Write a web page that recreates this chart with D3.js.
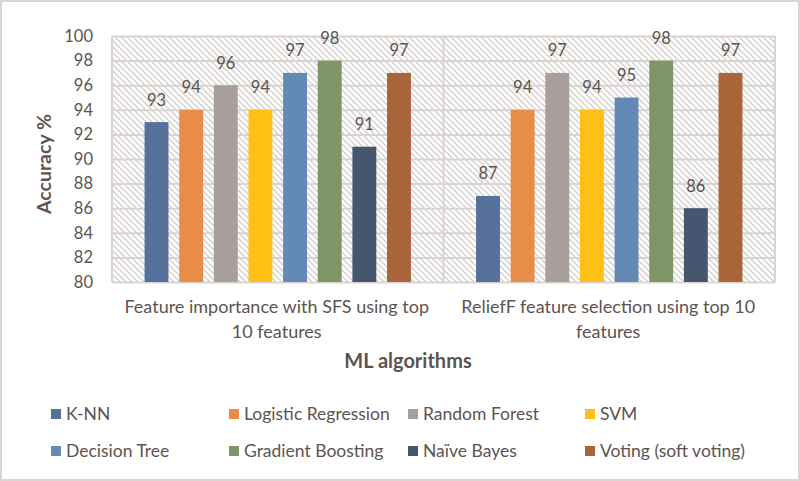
<!DOCTYPE html>
<html>
<head>
<meta charset="utf-8">
<script src="https://cdn.jsdelivr.net/npm/d3@7"></script>
<style>
  body { margin: 0; background: #fff; }
  svg text { font-family: Lato, "Open Sans", sans-serif; fill: #5e5350; }
</style>
</head>
<body>
<div id="chart"></div>
<script>
// data
const groups = ['Feature importance with SFS using top 10 features', 'ReliefF feature selection using top 10 features'];
const groupLines = [['Feature importance with SFS using top', '10 features'], ['ReliefF feature selection using top 10', 'features']];
const algorithms = ['K-NN', 'Logistic Regression', 'Random Forest', 'SVM', 'Decision Tree', 'Gradient Boosting', 'Naïve Bayes', 'Voting (soft voting)'];
const colors = ['#56709c', '#e88d49', '#a89e9b', '#fcc114', '#6389b5', '#7e9667', '#46566f', '#a9643a'];
const sfsValues = [93, 94, 96, 94, 97, 98, 91, 97];
const reliefValues = [87, 94, 97, 94, 95, 98, 86, 97];
const yTicks = [80, 82, 84, 86, 88, 90, 92, 94, 96, 98, 100];

const width = 800, height = 481;
const plot = {left: 112, right: 775, top: 36, bottom: 282};

const svg = d3.select('#chart').append('svg')
    .attr('width', width)
    .attr('height', height);

// outer frame
svg.append('rect')
    .attr('x', 1).attr('y', 1)
    .attr('width', width - 2).attr('height', height - 2)
    .attr('fill', '#fff')
    .attr('stroke', '#d9d5d3')
    .attr('stroke-width', 2);

// hatch pattern for plot background
const defs = svg.append('defs');
const pat = defs.append('pattern')
    .attr('id', 'hatch')
    .attr('patternUnits', 'userSpaceOnUse')
    .attr('width', 6).attr('height', 6);
pat.append('rect').attr('width', 6).attr('height', 6).attr('fill', '#fff');
pat.append('path')
    .attr('d', 'M-1,-1 L7,7 M-1,5 L1,7 M5,-1 L7,1')
    .attr('stroke', '#d3cdcb')
    .attr('stroke-width', 1.3);

let x0 = d3.scaleBand()
    .domain(groups)
    .range([plot.left, plot.right]);

let x1 = d3.scaleBand()
    .domain(algorithms)
    .range([0, x0.bandwidth()])
    .paddingInner(0.31)
    .paddingOuter(0.94);

let y = d3.scaleLinear()
    .domain([80, 100])
    .range([plot.bottom, plot.top]);

svg.append('rect')
    .attr('x', plot.left).attr('y', plot.top)
    .attr('width', plot.right - plot.left)
    .attr('height', plot.bottom - plot.top)
    .attr('fill', 'url(#hatch)');

// gridlines + tick labels
let yAxis = d3.axisLeft(y)
    .tickValues(yTicks)
    .tickSize(-(plot.right - plot.left))
    .tickPadding(19);
let gy = svg.append('g')
    .attr('transform', `translate(${plot.left},0)`)
    .call(yAxis);
gy.select('.domain').remove();
gy.selectAll('line').attr('stroke', '#d9d4d2').attr('stroke-width', 2);
gy.selectAll('text')
    .style('font-family', 'Lato, sans-serif')
    .style('font-size', '16.5px')
    .style('fill', '#5e5350');

// vertical borders / category divider
svg.selectAll('.vline')
    .data([plot.left, x0(groups[1]), plot.right])
    .enter()
    .append('line')
    .attr('class', 'vline')
    .attr('x1', d => d).attr('x2', d => d)
    .attr('y1', plot.top).attr('y2', plot.bottom)
    .attr('stroke', '#d9d4d2')
    .attr('stroke-width', 2);

const seriesByGroup = [sfsValues, reliefValues];

groups.forEach((g, gi) => {
    let gg = svg.append('g').attr('transform', `translate(${x0(g)},0)`);
    let vals = seriesByGroup[gi];
    gg.selectAll('rect')
        .data(algorithms)
        .enter()
        .append('rect')
        .attr('x', d => x1(d))
        .attr('width', x1.bandwidth())
        .attr('y', (d, i) => y(vals[i]))
        .attr('height', (d, i) => y(80) - y(vals[i]))
        .attr('fill', (d, i) => colors[i]);
    gg.selectAll('.lbl')
        .data(algorithms)
        .enter()
        .append('text')
        .attr('class', 'lbl')
        .attr('x', d => x1(d) + x1.bandwidth() / 2)
        .attr('y', (d, i) => y(vals[i]) - 16.5)
        .attr('text-anchor', 'middle')
        .style('font-size', '16.5px')
        .text((d, i) => vals[i]);
    // category label, two lines
    groupLines[gi].forEach((ln, li) => {
        svg.append('text')
            .attr('x', x0(g) + x0.bandwidth() / 2 - 1)
            .attr('y', 313 + li * 25)
            .attr('text-anchor', 'middle')
            .style('font-size', '18px')
            .text(ln);
    });
});

// axis titles
svg.append('text')
    .attr('transform', 'translate(51,164) rotate(-90)')
    .attr('text-anchor', 'middle')
    .style('font-size', '19.5px')
    .style('font-weight', 'bold')
    .text('Accuracy %');

svg.append('text')
    .attr('x', 408)
    .attr('y', 368)
    .attr('text-anchor', 'middle')
    .style('font-size', '20px')
    .style('font-weight', 'bold')
    .text('ML algorithms');

// legend, 4 columns x 2 rows
const legendX = [51, 229, 408, 585];
const legendY = [420, 457];
let legend = svg.selectAll('.leg')
    .data(algorithms)
    .enter()
    .append('g')
    .attr('class', 'leg')
    .attr('transform', (d, i) => `translate(${legendX[i % 4]},${legendY[Math.floor(i / 4)]})`);
legend.append('rect')
    .attr('x', 0).attr('y', -11)
    .attr('width', 10).attr('height', 10)
    .attr('fill', (d, i) => colors[i]);
legend.append('text')
    .attr('x', 15)
    .attr('y', 0)
    .style('font-size', '17.5px')
    .text(d => d);
</script>
</body>
</html>
